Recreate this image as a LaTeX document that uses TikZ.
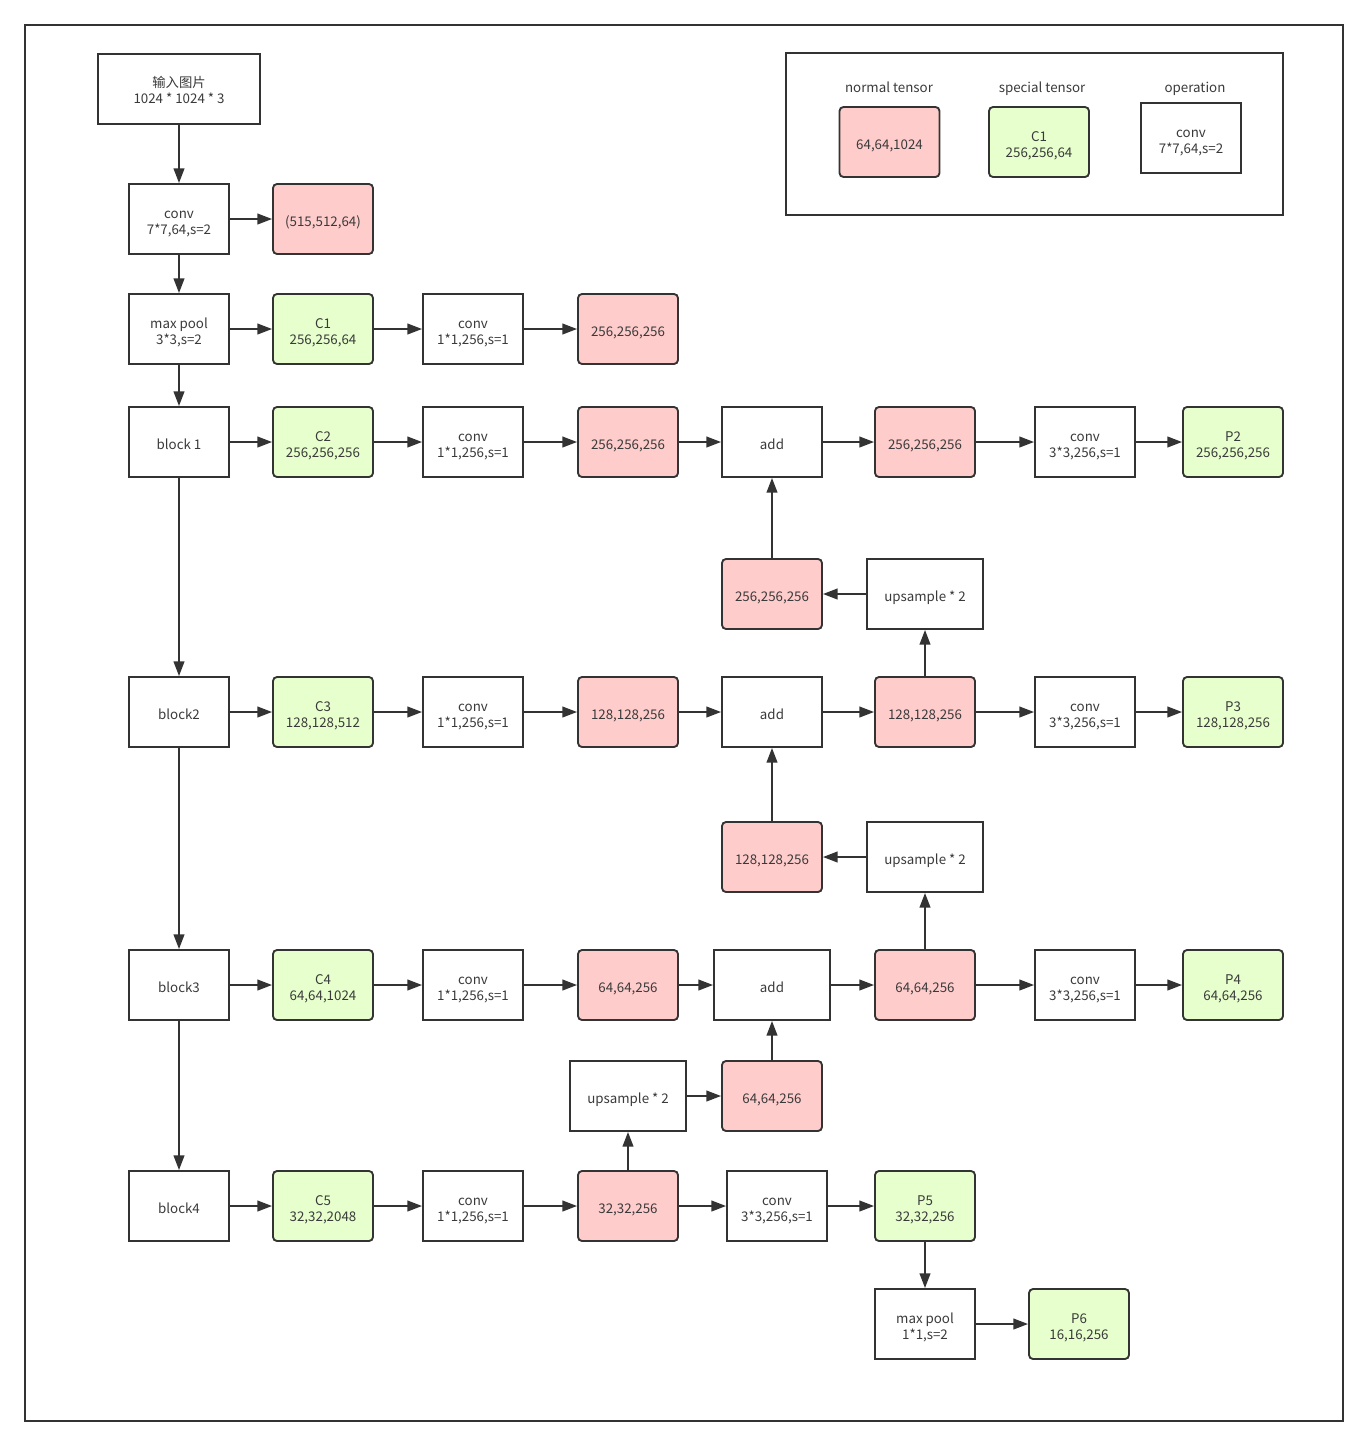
\documentclass[tikz,border=0pt]{standalone}
\usepackage{fontspec}
\setmainfont{Noto Sans CJK SC}
\usetikzlibrary{arrows.meta}
\definecolor{linegray}{HTML}{333333}
\definecolor{textgray}{HTML}{3A3A3A}
\definecolor{normalpink}{HTML}{FFCCCC}
\definecolor{specialgreen}{HTML}{E6FFCC}
\tikzset{
  op/.style={draw=linegray, line width=1.4pt, fill=white, text=textgray,
    minimum width=75pt, minimum height=52.5pt, align=center, inner sep=0pt,
    font=\fontsize{10}{12}\selectfont, text height=10.5pt, text depth=0pt},
  pair/.style={text height=22.5pt},
  wideop/.style={op, minimum width=87pt},
  normal/.style={op, fill=normalpink, rounded corners=3pt},
  special/.style={op, fill=specialgreen, rounded corners=3pt, pair},
  caption/.style={text=textgray, font=\fontsize{10}{12}\selectfont, anchor=base},
  flow/.style={draw=linegray, line width=1.4pt, -{Triangle[length=11pt,width=8pt]}},
  frame/.style={draw=linegray, line width=1.4pt},
}
\begin{document}
\begin{tikzpicture}[x=0.75pt, y=-0.75pt]
  \useasboundingbox (0,0) rectangle (1368,1446);
  \draw[frame] (25,25) rectangle (1343,1421);

  % legend
  \draw[frame] (786,53) rectangle (1283,215);
  \node[caption] (lnormal) at (889,92) {normal tensor};
  \node[caption] (lspecial) at (1042,92) {special tensor};
  \node[caption] (lop) at (1195,92) {operation};
  \node[normal] (legnormal) at (889.5,142) {64,64,1024};
  \node[special] (legspecial) at (1039,142) {C1\\256,256,64};
  \node[op, pair] (legop) at (1191,138) {conv\\7*7,64,s=2};

  % stem
  \node[op, pair, minimum width=121.5pt, minimum height=53pt, text height=21pt] (input) at (179,89) {输入图片\\1024 * 1024 * 3};
  \node[op, pair] (conv1) at (179,219) {conv\\7*7,64,s=2};
  \node[normal] (t0) at (323,219) {(515,512,64)};
  \node[op, pair] (pool) at (179,329) {max pool\\3*3,s=2};
  \node[special] (c1) at (323,329) {C1\\256,256,64};
  \node[op, pair] (lat1) at (473,329) {conv\\1*1,256,s=1};
  \node[normal] (t1) at (628,329) {256,256,256};

  % block 1
  \node[op] (block1) at (179,442) {block 1};
  \node[special] (c2) at (323,442) {C2\\256,256,256};
  \node[op, pair] (lat2) at (473,442) {conv\\1*1,256,s=1};
  \node[normal] (t2) at (628,442) {256,256,256};
  \node[op] (add2) at (772,442) {add};
  \node[normal] (m2) at (925,442) {256,256,256};
  \node[op, pair] (out2) at (1085,442) {conv\\3*3,256,s=1};
  \node[special] (p2) at (1233,442) {P2\\256,256,256};
  \node[normal] (u2) at (772,594) {256,256,256};
  \node[wideop] (up2) at (925,594) {upsample * 2};

  % block 2
  \node[op] (block2) at (179,712) {block2};
  \node[special] (c3) at (323,712) {C3\\128,128,512};
  \node[op, pair] (lat3) at (473,712) {conv\\1*1,256,s=1};
  \node[normal] (t3) at (628,712) {128,128,256};
  \node[op] (add3) at (772,712) {add};
  \node[normal] (m3) at (925,712) {128,128,256};
  \node[op, pair] (out3) at (1085,712) {conv\\3*3,256,s=1};
  \node[special] (p3) at (1233,712) {P3\\128,128,256};
  \node[normal] (u3) at (772,857) {128,128,256};
  \node[wideop] (up3) at (925,857) {upsample * 2};

  % block 3
  \node[op] (block3) at (179,985) {block3};
  \node[special] (c4) at (323,985) {C4\\64,64,1024};
  \node[op, pair] (lat4) at (473,985) {conv\\1*1,256,s=1};
  \node[normal] (t4) at (628,985) {64,64,256};
  \node[wideop] (add4) at (772,985) {add};
  \node[normal] (m4) at (925,985) {64,64,256};
  \node[op, pair] (out4) at (1085,985) {conv\\3*3,256,s=1};
  \node[special] (p4) at (1233,985) {P4\\64,64,256};
  \node[wideop] (up4) at (628,1096) {upsample * 2};
  \node[normal] (u4) at (772,1096) {64,64,256};

  % block 4
  \node[op] (block4) at (179,1206) {block4};
  \node[special] (c5) at (323,1206) {C5\\32,32,2048};
  \node[op, pair] (lat5) at (473,1206) {conv\\1*1,256,s=1};
  \node[normal] (m5) at (628,1206) {32,32,256};
  \node[op, pair] (out5) at (777,1206) {conv\\3*3,256,s=1};
  \node[special] (p5) at (925,1206) {P5\\32,32,256};
  \node[op, pair] (pool6) at (925,1324) {max pool\\1*1,s=2};
  \node[special] (p6) at (1079,1324) {P6\\16,16,256};

  % connectors
  \foreach \a/\b in {input/conv1, conv1/pool, pool/block1, block1/block2,
      block2/block3, block3/block4, p5/pool6}
    \draw[flow] (\a.south) -- (\b.north);
  \foreach \a/\b in {m3/up2, m4/up3, m5/up4, u2/add2, u3/add3, u4/add4}
    \draw[flow] (\a.north) -- (\b.south);
  \foreach \a/\b in {conv1/t0, pool/c1, c1/lat1, lat1/t1,
      block1/c2, c2/lat2, lat2/t2, t2/add2, add2/m2, m2/out2, out2/p2,
      block2/c3, c3/lat3, lat3/t3, t3/add3, add3/m3, m3/out3, out3/p3,
      block3/c4, c4/lat4, lat4/t4, t4/add4, add4/m4, m4/out4, out4/p4,
      block4/c5, c5/lat5, lat5/m5, m5/out5, out5/p5, pool6/p6, up4/u4}
    \draw[flow] (\a.east) -- (\b.west);
  \foreach \a/\b in {up2/u2, up3/u3}
    \draw[flow] (\a.west) -- (\b.east);
\end{tikzpicture}
\end{document}
